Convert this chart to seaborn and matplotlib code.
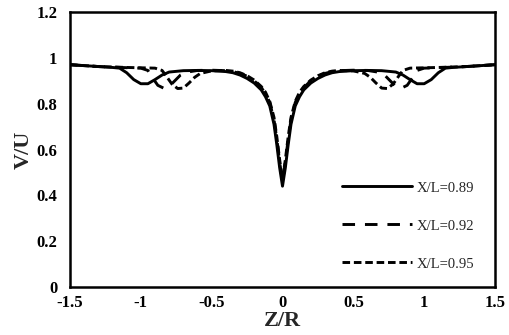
import numpy as np
import pandas as pd
import matplotlib
matplotlib.use("Agg")
import matplotlib.pyplot as plt
import seaborn as sns

# ---- data ----
z_089 = [-1.5, -1.4, -1.3, -1.2, -1.15, -1.1, -1.05, -1.0, -0.95, -0.9, -0.85, -0.8, -0.7, -0.6, -0.5,
         -0.4, -0.35, -0.3, -0.25, -0.2, -0.15, -0.12, -0.09, -0.06, -0.04, -0.02, 0.0,
         0.02, 0.04, 0.06, 0.09, 0.12, 0.15, 0.2, 0.25, 0.3, 0.35, 0.4,
         0.5, 0.6, 0.7, 0.8, 0.85, 0.9, 0.95, 1.0, 1.05, 1.1, 1.15, 1.2, 1.3, 1.4, 1.5]
v_089 = [0.970, 0.966, 0.962, 0.958, 0.955, 0.935, 0.905, 0.887, 0.887, 0.905, 0.925, 0.938, 0.944, 0.945, 0.944,
         0.940, 0.935, 0.925, 0.910, 0.890, 0.860, 0.830, 0.790, 0.710, 0.620, 0.520, 0.440,
         0.520, 0.620, 0.710, 0.790, 0.830, 0.860, 0.890, 0.910, 0.925, 0.935, 0.940,
         0.944, 0.945, 0.944, 0.938, 0.925, 0.905, 0.887, 0.887, 0.905, 0.935, 0.955, 0.958, 0.962, 0.966, 0.970]

z_092 = [-1.5, -1.3, -1.1, -1.0, -0.95, -0.92, -0.88, -0.84, -0.8, -0.76, -0.72, -0.68, -0.6, -0.5,
         -0.4, -0.35, -0.3, -0.25, -0.2, -0.15, -0.12, -0.09, -0.06, -0.04, -0.02, 0.0,
         0.02, 0.04, 0.06, 0.09, 0.12, 0.15, 0.2, 0.25, 0.3, 0.35, 0.4,
         0.5, 0.6, 0.68, 0.72, 0.76, 0.8, 0.84, 0.88, 0.92, 0.95, 1.0, 1.1, 1.3, 1.5]
v_092 = [0.970, 0.962, 0.957, 0.955, 0.945, 0.915, 0.880, 0.868, 0.875, 0.900, 0.925, 0.937, 0.945, 0.946,
         0.944, 0.940, 0.932, 0.920, 0.900, 0.870, 0.845, 0.805, 0.730, 0.645, 0.545, 0.460,
         0.545, 0.645, 0.730, 0.805, 0.845, 0.870, 0.900, 0.920, 0.932, 0.940, 0.944,
         0.946, 0.945, 0.937, 0.925, 0.900, 0.875, 0.868, 0.880, 0.915, 0.945, 0.955, 0.957, 0.962, 0.970]

z_095 = [-1.5, -1.3, -1.1, -0.9, -0.85, -0.82, -0.78, -0.74, -0.7, -0.66, -0.62, -0.58, -0.5,
         -0.4, -0.35, -0.3, -0.25, -0.2, -0.15, -0.12, -0.09, -0.06, -0.04, -0.02, 0.0,
         0.02, 0.04, 0.06, 0.09, 0.12, 0.15, 0.2, 0.25, 0.3, 0.35, 0.4,
         0.5, 0.58, 0.62, 0.66, 0.7, 0.74, 0.78, 0.82, 0.85, 0.9, 1.1, 1.3, 1.5]
v_095 = [0.970, 0.962, 0.958, 0.955, 0.945, 0.920, 0.885, 0.866, 0.868, 0.890, 0.915, 0.932, 0.943,
         0.945, 0.942, 0.935, 0.922, 0.903, 0.875, 0.850, 0.810, 0.740, 0.655, 0.555, 0.470,
         0.555, 0.655, 0.740, 0.810, 0.850, 0.875, 0.903, 0.922, 0.935, 0.942, 0.945,
         0.943, 0.932, 0.915, 0.890, 0.868, 0.866, 0.885, 0.920, 0.945, 0.955, 0.958, 0.962, 0.970]

labels = ["X/L=0.89", "X/L=0.92", "X/L=0.95"]
x_ticks = [-1.5, -1, -0.5, 0, 0.5, 1, 1.5]
x_ticklabels = ["-1.5", "-1", "-0.5", "0", "0.5", "1", "1.5"]
y_ticks = [0, 0.2, 0.4, 0.6, 0.8, 1.0, 1.2]
y_ticklabels = ["0", "0.2", "0.4", "0.6", "0.8", "1", "1.2"]

# ---- styling ----
sns.set_theme(style="white")
plt.rcParams["font.family"] = ["Liberation Serif", "DejaVu Serif"]

fig = plt.figure(figsize=(5.09, 3.35), dpi=100)
ax = fig.add_axes([70 / 509, 1 - 287 / 335, 425 / 509, 275 / 335])

styles = ["-", (0, (4.3, 3.4)), (0, (2.6, 1.3))]
series = [(z_089, v_089), (z_092, v_092), (z_095, v_095)]
for (z, v), lab, ls in zip(series, labels, styles):
    df = pd.DataFrame({"Z/R": z, "V/U": v})
    sns.lineplot(data=df, x="Z/R", y="V/U", ax=ax, color="black", lw=2.1,
                 linestyle=ls, label=lab, sort=False)

ax.set_xlim(-1.5, 1.5)
ax.set_ylim(0, 1.2)
ax.set_xticks(x_ticks)
ax.set_xticklabels(x_ticklabels, fontweight="bold", fontsize=12)
ax.set_yticks(y_ticks)
ax.set_yticklabels(y_ticklabels, fontweight="bold", fontsize=12)
ax.tick_params(axis="x", length=0, pad=6, colors="black")
ax.tick_params(axis="y", length=0, pad=9, colors="black")
ax.set_xlabel("Z/R", fontweight="bold", fontsize=16, labelpad=0)
ax.set_ylabel("V/U", fontweight="bold", fontsize=16, labelpad=2)
for s in ax.spines.values():
    s.set_color("black")
    s.set_linewidth(1.8)

leg = ax.legend(loc="center left", bbox_to_anchor=((342 - 70) / 425, (287 - 226) / 275),
                frameon=False, fontsize=10.5, handlelength=4.8, handletextpad=0.35,
                labelspacing=1.7, borderpad=0, borderaxespad=0)

fig.savefig("out.png", dpi=100)
